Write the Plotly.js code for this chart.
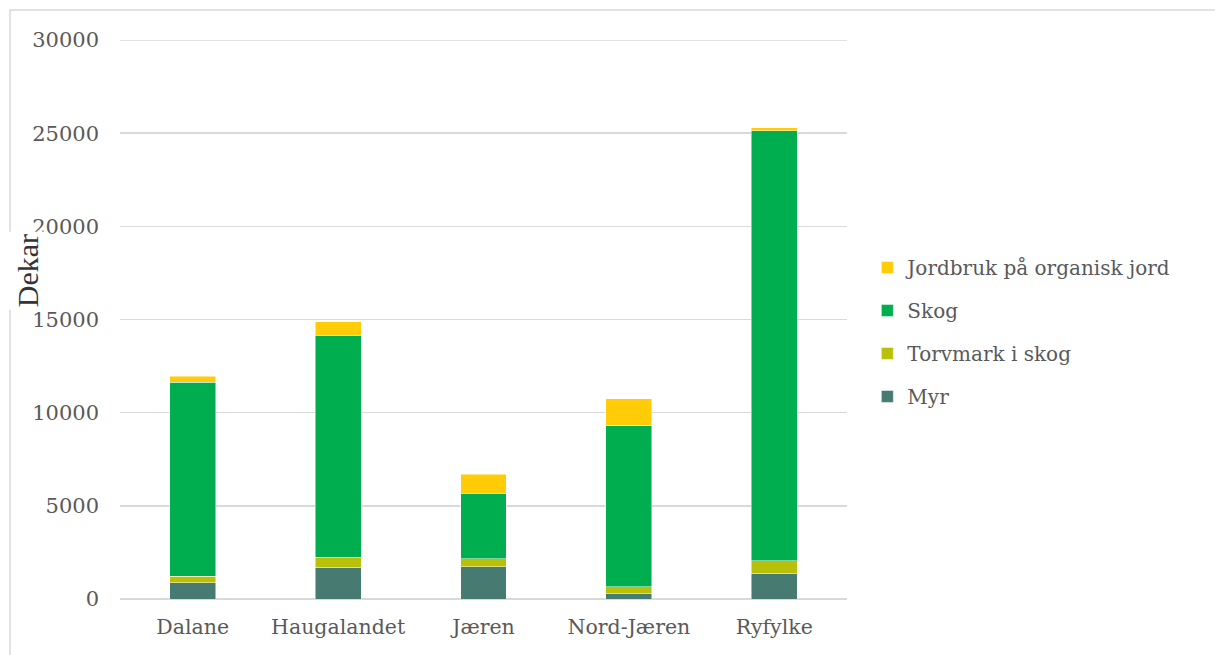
<!DOCTYPE html>
<html>
<head>
<meta charset="utf-8">
<script src="https://cdn.plot.ly/plotly-3.0.1.min.js"></script>
<style>
  html, body { margin: 0; padding: 0; background: #ffffff; }
  #chart { width: 1215px; height: 655px; }
</style>
</head>
<body>
<div id="chart"></div>
<script>
// Areal per region (dekar), fordelt på arealtype
const regions = ['Dalane', 'Haugalandet', 'Jæren', 'Nord-Jæren', 'Ryfylke'];
const myr = [870, 1700, 1730, 290, 1380];
const torvmarkISkog = [350, 550, 420, 370, 660];
const skog = [10400, 11900, 3520, 8630, 23100];
const jordbruk = [330, 720, 1030, 1450, 150];
const yTicks = [0, 5000, 10000, 15000, 20000, 25000, 30000];

const textColor = '#595959';
const gridColor = '#d9d9d9';
const serif = 'DejaVu Serif, Georgia, serif';
const yMax = yTicks[yTicks.length - 1];

function barTrace(name, values, color, rank) {
  return {
    type: 'bar',
    name: name,
    x: regions,
    y: values,
    legendgroup: name,
    legendrank: rank,
    marker: { color: color, line: { color: 'rgba(255,255,255,0.6)', width: 0.8 } },
    hoverinfo: 'x+y+name'
  };
}

const data = [
  barTrace('Myr', myr, '#477b72', 4),
  barTrace('Torvmark i skog', torvmarkISkog, '#b9c00a', 3),
  barTrace('Skog', skog, '#00ad4f', 2),
  barTrace('Jordbruk på organisk jord', jordbruk, '#ffcc07', 1)
];

const layout = {
  width: 1215,
  height: 655,
  paper_bgcolor: '#ffffff',
  plot_bgcolor: '#ffffff',
  barmode: 'stack',
  bargap: 0.684,
  margin: { l: 120, r: 368, t: 40, b: 56 },
  font: { family: serif, size: 20, color: textColor },
  xaxis: {
    type: 'category',
    showgrid: false,
    zeroline: false,
    showline: false,
    ticks: '',
    ticklabelstandoff: 13,
    tickfont: { family: serif, size: 20.5, color: textColor }
  },
  yaxis: {
    range: [0, yMax],
    tickvals: yTicks,
    ticktext: yTicks.map(String),
    showgrid: true,
    gridcolor: gridColor,
    gridwidth: 1.5,
    zeroline: true,
    zerolinecolor: gridColor,
    zerolinewidth: 1.5,
    showline: false,
    ticks: '',
    ticklabelstandoff: 20,
    tickfont: { family: serif, size: 21, color: textColor }
  },
  legend: {
    x: 1.028,
    xanchor: 'left',
    y: 0.628,
    yanchor: 'top',
    traceorder: 'grouped',
    tracegroupgap: 14,
    itemwidth: 30,
    font: { family: serif, size: 20, color: textColor },
    bgcolor: 'rgba(0,0,0,0)'
  },
  shapes: [
    // top gridline at the axis maximum (plotly skips gridlines on the plot edge)
    {
      type: 'line',
      xref: 'paper',
      yref: 'y',
      x0: 0, x1: 1,
      y0: yMax, y1: yMax,
      layer: 'below',
      line: { color: gridColor, width: 1.5 }
    },
    // chart frame: left and top edges
    {
      type: 'path',
      xref: 'paper',
      yref: 'paper',
      path: 'M -0.1513,-0.11 L -0.1513,1.0537 L 1.52,1.0537',
      line: { color: gridColor, width: 1.5 }
    }
  ],
  annotations: [
    {
      text: 'Dekar',
      xref: 'paper',
      yref: 'paper',
      x: -0.128,
      y: 0.588,
      xanchor: 'center',
      yanchor: 'middle',
      textangle: -90,
      showarrow: false,
      bgcolor: '#ffffff',
      borderpad: 2,
      font: { family: 'Liberation Serif, Times New Roman, serif', size: 30, color: '#333333' }
    }
  ],
  showlegend: true
};

Plotly.newPlot('chart', data, layout, { displayModeBar: false, staticPlot: true });
</script>
</body>
</html>
